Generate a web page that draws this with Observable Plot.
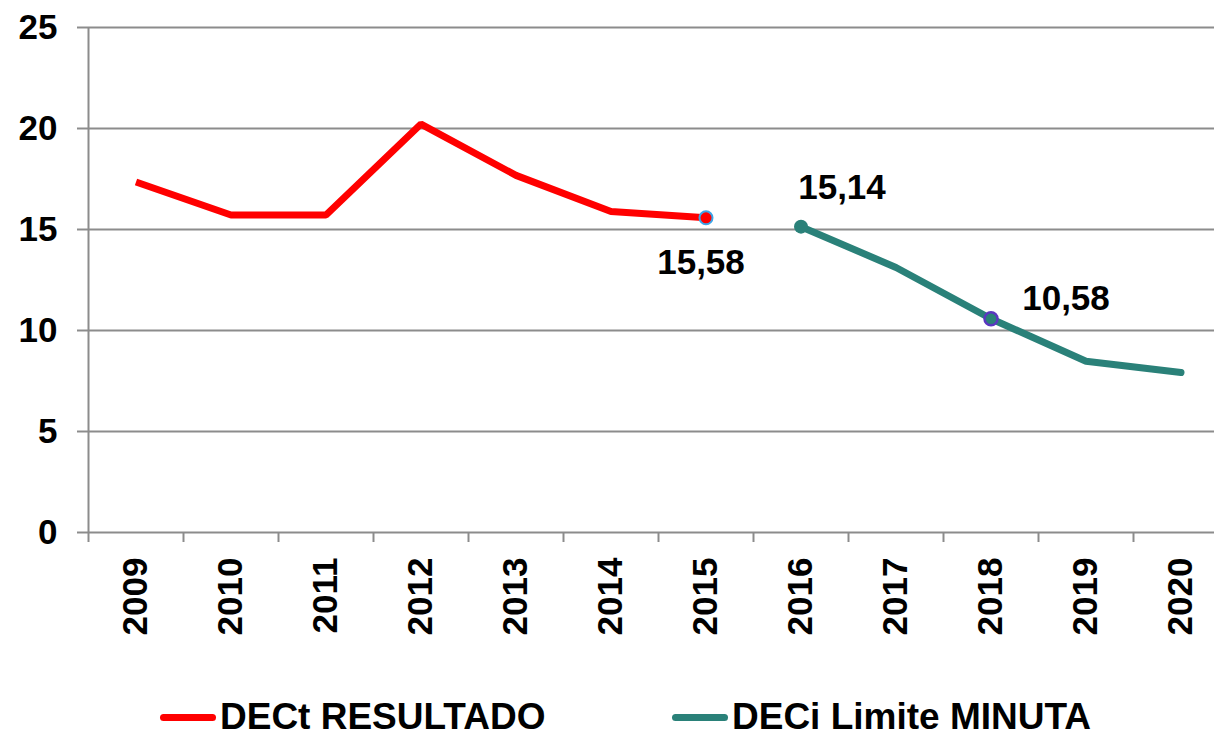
<!DOCTYPE html>
<html><head><meta charset="utf-8">
<script src="https://cdn.jsdelivr.net/npm/d3@7"></script>
<script src="https://cdn.jsdelivr.net/npm/@observablehq/plot@0.6"></script>
<style>
body{margin:0;background:#fff;font-family:"Liberation Sans",Arial,sans-serif;}
#chart{position:relative;width:1214px;height:736px;overflow:hidden}
.legend{position:absolute;top:690px;left:0;width:1214px;height:46px}
.item{position:absolute;top:6px;display:flex;align-items:center;font-weight:bold;font-size:37px;color:#000;white-space:nowrap}
.sw{display:inline-block;width:56px;height:7px;border-radius:4px;margin-right:4px}
</style></head><body><div id="chart"></div>
<script>
const years = [2009,2010,2011,2012,2013,2014,2015,2016,2017,2018,2019,2020];
const resultadoYears = [2009,2010,2011,2012,2013,2014,2015];
const resultadoValues = [17.35,15.72,15.72,20.22,17.68,15.89,15.58];
const limiteYears = [2016,2017,2018,2019,2020];
const limiteValues = [15.14,13.12,10.58,8.48,7.92];
const yTicks = [0,5,10,15,20,25];
const seriesNames = ["DECt RESULTADO","DECi Limite MINUTA"];

const RED = "#ff0000", TEAL = "#2a8179", GRID = "#8c8c8c";
const resultado = resultadoYears.map((y,i)=>({year:y, value:resultadoValues[i]}));
const limite = limiteYears.map((y,i)=>({year:y, value:limiteValues[i]}));
const boundaries = years.map(y=>y-0.5);
const fmt = v => v.toFixed(2).replace(".", ",");
const pick = (arr, yr) => arr.filter(d=>d.year===yr);
const font = {fontSize:35, fontWeight:"bold", fill:"#000"};

const plot = Plot.plot({
  width:1214, height:690,
  marginLeft:88, marginRight:0, marginTop:27, marginBottom:158,
  style:{fontFamily:"'Liberation Sans', Arial, sans-serif", color:"#000", background:"#fff"},
  x:{type:"linear", domain:[2008.5,2020.5], range:[88,1228], label:null},
  y:{domain:[0,25], range:[532,27], label:null},
  marks:[
    Plot.ruleY(yTicks, {stroke:GRID, strokeWidth:2}),
    Plot.ruleX([2008.5], {y1:0, y2:25, stroke:GRID, strokeWidth:2}),
    Plot.axisY(yTicks, {label:null, tickSize:11, tickPadding:20, stroke:GRID, strokeWidth:2, ...font, tickFormat:d=>String(d)}),
    Plot.axisX(boundaries, {label:null, tickSize:10, text:null, stroke:GRID, strokeWidth:2}),
    Plot.axisX(years, {label:null, tickSize:0, tickPadding:25, tickRotate:-90, ...font, tickFormat:d=>String(d)}),
    Plot.line(resultado, {x:"year", y:"value", stroke:RED, strokeWidth:7, strokeLinejoin:"miter", strokeLinecap:"butt"}),
    Plot.line(limite, {x:"year", y:"value", stroke:TEAL, strokeWidth:7, strokeLinejoin:"miter", strokeLinecap:"round"}),
    Plot.dot(pick(resultado,2015), {x:"year", y:"value", r:6.5, fill:RED, stroke:"#3da5e8", strokeWidth:2}),
    Plot.dot(pick(limite,2016), {x:"year", y:"value", r:7, fill:TEAL}),
    Plot.dot(pick(limite,2018), {x:"year", y:"value", r:6.5, fill:TEAL, stroke:"#5a37c0", strokeWidth:2.5}),
    Plot.text(pick(resultado,2015), {x:"year", y:"value", text:d=>fmt(d.value), dx:-5, dy:45, ...font}),
    Plot.text(pick(limite,2016), {x:"year", y:"value", text:d=>fmt(d.value), dx:41, dy:-39, ...font}),
    Plot.text(pick(limite,2018), {x:"year", y:"value", text:d=>fmt(d.value), dx:75, dy:-20, ...font})
  ]
});
const chart = document.getElementById("chart");
chart.appendChild(plot);
const legend = document.createElement("div");
legend.className = "legend";
const colors = [RED, TEAL];
const lefts = [160, 672];
seriesNames.forEach((name,i)=>{
  const it = document.createElement("div");
  it.className = "item";
  it.style.left = lefts[i] + "px";
  const sw = document.createElement("span");
  sw.className = "sw"; sw.style.background = colors[i];
  it.appendChild(sw);
  it.appendChild(document.createTextNode(name));
  legend.appendChild(it);
});
chart.appendChild(legend);
</script></body></html>
